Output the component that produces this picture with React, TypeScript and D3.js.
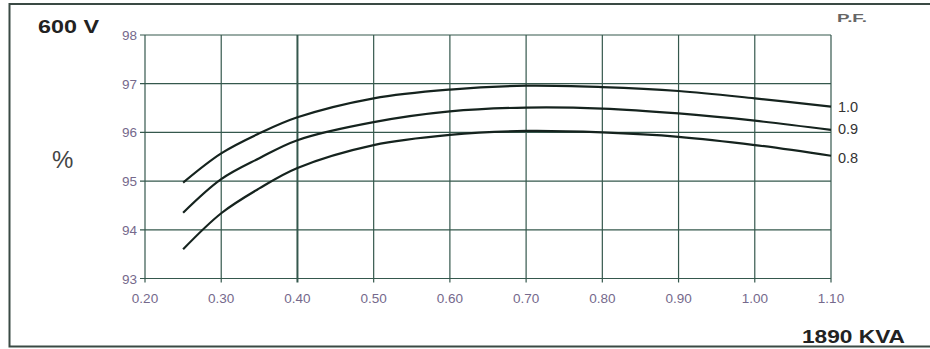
import React, { useEffect, useRef } from 'react';
import * as d3 from 'd3';

const loadFactors = [0.25, 0.3, 0.35, 0.4, 0.5, 0.6, 0.7, 0.8, 0.9, 1.0, 1.1];
const pf10 = [94.97, 95.57, 95.98, 96.31, 96.7, 96.88, 96.96, 96.93, 96.85, 96.7, 96.53];
const pf09 = [94.35, 95.04, 95.47, 95.84, 96.21, 96.43, 96.51, 96.49, 96.39, 96.24, 96.05];
const pf08 = [93.6, 94.34, 94.85, 95.27, 95.74, 95.95, 96.03, 96.0, 95.91, 95.74, 95.52];
const seriesLabels = ['1.0', '0.9', '0.8'];
const xTicks = [0.2, 0.3, 0.4, 0.5, 0.6, 0.7, 0.8, 0.9, 1.0, 1.1];
const yTicks = [93, 94, 95, 96, 97, 98];

export default function App() {
  const svgRef = useRef<SVGSVGElement>(null);

  useEffect(() => {
    if (!svgRef.current) return;
    const svg = d3.select(svgRef.current);
    svg.selectAll('*').remove();

    const x = d3.scaleLinear().domain([0.2, 1.1]).range([145, 831]);
    const y = d3.scaleLinear().domain([93, 98]).range([278.5, 35]);
    const gridColor = '#35584d';
    const tickColor = '#75698c';

    // outer frame
    svg.append('path')
      .attr('d', 'M940,4 H9.5 V346.5 H940')
      .attr('fill', 'none')
      .attr('stroke', '#3a4a44')
      .attr('stroke-width', 2);

    // grid
    const g = svg.append('g');
    g.selectAll('.hgrid')
      .data(yTicks)
      .enter()
      .append('line')
      .attr('x1', 140).attr('x2', x(1.1))
      .attr('y1', d => y(d)).attr('y2', d => y(d))
      .attr('stroke', gridColor)
      .attr('stroke-width', 1.2);

    g.selectAll('.vgrid')
      .data(xTicks)
      .enter()
      .append('line')
      .attr('x1', d => x(d)).attr('x2', d => x(d))
      .attr('y1', y(98)).attr('y2', y(93) + 4)
      .attr('stroke', gridColor)
      .attr('stroke-width', d => (Math.abs(d - 0.4) < 1e-6 ? 2 : 1.2));

    // tick labels
    g.selectAll('.ylab')
      .data(yTicks)
      .enter()
      .append('text')
      .attr('x', 137)
      .attr('y', d => y(d) + 5)
      .attr('text-anchor', 'end')
      .attr('font-family', 'Liberation Sans, Arial, sans-serif')
      .attr('font-size', 13.5)
      .attr('fill', tickColor)
      .text(d => d);

    g.selectAll('.xlab')
      .data(xTicks)
      .enter()
      .append('text')
      .attr('x', d => x(d))
      .attr('y', 303)
      .attr('text-anchor', 'middle')
      .attr('font-family', 'Liberation Sans, Arial, sans-serif')
      .attr('font-size', 13.5)
      .attr('fill', tickColor)
      .text(d => d.toFixed(2));

    // curves
    const line = d3.line<number>()
      .x((d, i) => x(loadFactors[i]))
      .y(d => y(d))
      .curve(d3.curveCatmullRom);

    [pf10, pf09, pf08].forEach((s, k) => {
      g.append('path')
        .datum(s)
        .attr('d', line)
        .attr('fill', 'none')
        .attr('stroke', '#15231e')
        .attr('stroke-width', 2.2);

      g.append('text')
        .attr('x', 838)
        .attr('y', y(s[s.length - 1]) + 5 + [0, -1, 2][k])
        .attr('font-family', 'Liberation Sans, Arial, sans-serif')
        .attr('font-size', 14.5)
        .attr('fill', '#333')
        .text(seriesLabels[k]);
    });

    // labels
    svg.append('text')
      .attr('x', 38).attr('y', 33)
      .attr('font-family', 'Liberation Sans, Arial, sans-serif')
      .attr('font-weight', 'bold')
      .attr('font-size', 18)
      .attr('fill', '#222')
      .attr('textLength', 61)
      .attr('lengthAdjust', 'spacingAndGlyphs')
      .text('600 V');

    svg.append('text')
      .attr('x', 52).attr('y', 168)
      .attr('font-family', 'Liberation Sans, Arial, sans-serif')
      .attr('font-size', 24)
      .attr('fill', '#444')
      .text('%');

    svg.append('text')
      .attr('x', 837).attr('y', 22)
      .attr('font-family', 'Liberation Sans, Arial, sans-serif')
      .attr('font-weight', 'bold')
      .attr('font-size', 11)
      .attr('fill', '#666')
      .attr('textLength', 30)
      .attr('lengthAdjust', 'spacingAndGlyphs')
      .text('P.F.');

    svg.append('text')
      .attr('x', 802).attr('y', 343)
      .attr('font-family', 'Liberation Sans, Arial, sans-serif')
      .attr('font-weight', 'bold')
      .attr('font-size', 18.5)
      .attr('fill', '#222')
      .attr('textLength', 103)
      .attr('lengthAdjust', 'spacingAndGlyphs')
      .text('1890 KVA');
  }, []);

  return (
    <svg
      ref={svgRef}
      width={930}
      height={349}
      style={{ position: 'absolute', left: 0, top: 0, background: '#fff' }}
    />
  );
}
